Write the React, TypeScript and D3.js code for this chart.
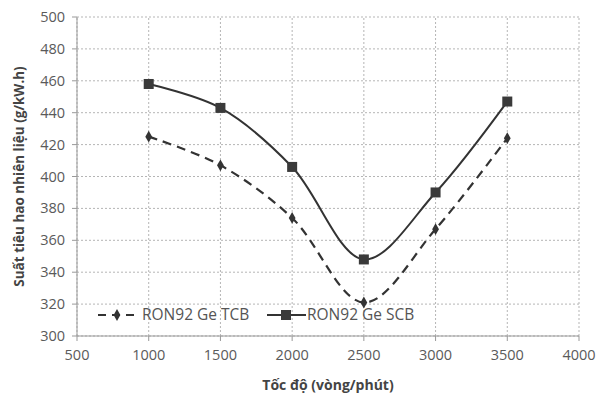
import { useRef, useEffect } from "react";
import * as d3 from "d3";

const speeds = [1000, 1500, 2000, 2500, 3000, 3500];
const tcb = [425, 407, 374, 321, 367, 424];
const scb = [458, 443, 406, 348, 390, 447];
const xTicks = [500, 1000, 1500, 2000, 2500, 3000, 3500, 4000];
const yTicks = [300, 320, 340, 360, 380, 400, 420, 440, 460, 480, 500];

export default function App() {
  const svgRef = useRef<SVGSVGElement>(null);
  const W = 598, H = 397;

  useEffect(() => {
    if (!svgRef.current) return;
    const svg = d3.select(svgRef.current);
    svg.selectAll("*").remove();

    const m = { left: 77, right: 19, top: 17, bottom: 61 };
    const x = d3.scaleLinear().domain([500, 4000]).range([m.left, W - m.right]);
    const y = d3.scaleLinear().domain([300, 500]).range([H - m.bottom, m.top]);
    const font = "'Open Sans', sans-serif";

    svg.append("rect").attr("width", W).attr("height", H).attr("fill", "#fff");

    // grid
    const grid = svg.append("g");
    yTicks.forEach(t => {
      grid.append("line").attr("x1", x(500)).attr("x2", x(4000)).attr("y1", y(t)).attr("y2", y(t))
        .attr("stroke", "#b5b5b5").attr("stroke-width", 1).attr("stroke-dasharray", "2,2");
    });
    xTicks.forEach(t => {
      grid.append("line").attr("x1", x(t)).attr("x2", x(t)).attr("y1", y(300)).attr("y2", y(500))
        .attr("stroke", "#b5b5b5").attr("stroke-width", 1).attr("stroke-dasharray", "2,2");
    });

    // axes lines
    svg.append("line").attr("x1", x(500)).attr("x2", x(4000)).attr("y1", y(300)).attr("y2", y(300))
      .attr("stroke", "#999");
    svg.append("line").attr("x1", x(500)).attr("x2", x(500)).attr("y1", y(300)).attr("y2", y(500))
      .attr("stroke", "#999");
    yTicks.forEach(t => {
      svg.append("line").attr("x1", x(500) - 5).attr("x2", x(500)).attr("y1", y(t)).attr("y2", y(t)).attr("stroke", "#999");
    });
    xTicks.forEach(t => {
      svg.append("line").attr("x1", x(t)).attr("x2", x(t)).attr("y1", y(300)).attr("y2", y(300) + 5).attr("stroke", "#999");
    });

    // tick labels
    yTicks.forEach(t => {
      svg.append("text").attr("x", x(500) - 12).attr("y", y(t)).attr("dy", "0.35em")
        .attr("text-anchor", "end").attr("font-family", font).attr("font-size", 14.5).attr("fill", "#5a5a5a")
        .text(t);
    });
    xTicks.forEach(t => {
      svg.append("text").attr("x", x(t)).attr("y", y(300) + 24)
        .attr("text-anchor", "middle").attr("font-family", font).attr("font-size", 14.5).attr("fill", "#5a5a5a")
        .text(t);
    });

    // titles
    svg.append("text").attr("x", (x(500) + x(4000)) / 2).attr("y", 390)
      .attr("text-anchor", "middle").attr("font-family", font).attr("font-size", 14).attr("font-weight", "bold")
      .attr("fill", "#444").text("Tốc độ (vòng/phút)");
    svg.append("text").attr("transform", `translate(24,${(y(300) + y(500)) / 2}) rotate(-90)`)
      .attr("text-anchor", "middle").attr("font-family", font).attr("font-size", 13.5).attr("font-weight", "bold")
      .attr("fill", "#444").text("Suất tiêu hao nhiên liệu (g/kW.h)");

    const line = d3.line<number>()
      .x((_, i) => x(speeds[i])).y(d => y(d)).curve(d3.curveCatmullRom.alpha(0.5));

    // TCB dashed with diamonds
    svg.append("path").datum(tcb).attr("d", line).attr("fill", "none")
      .attr("stroke", "#333").attr("stroke-width", 2.2).attr("stroke-dasharray", "9,6");
    const diamond = d3.symbol().type(d3.symbolDiamond).size(40);
    tcb.forEach((v, i) => {
      svg.append("path").attr("d", diamond()).attr("transform", `translate(${x(speeds[i])},${y(v)})`).attr("fill", "#333");
    });

    // SCB solid with squares
    svg.append("path").datum(scb).attr("d", line).attr("fill", "none")
      .attr("stroke", "#333").attr("stroke-width", 2);
    scb.forEach((v, i) => {
      svg.append("rect").attr("x", x(speeds[i]) - 5).attr("y", y(v) - 5).attr("width", 10).attr("height", 10).attr("fill", "#3a3a3a");
    });

    // legend
    const ly = 315;
    svg.append("line").attr("x1", 98).attr("x2", 136).attr("y1", ly).attr("y2", ly)
      .attr("stroke", "#333").attr("stroke-width", 2.2).attr("stroke-dasharray", "8,6");
    svg.append("path").attr("d", diamond()).attr("transform", `translate(117,${ly})`).attr("fill", "#333");
    svg.append("text").attr("x", 142).attr("y", ly).attr("dy", "0.35em").attr("font-family", font)
      .attr("font-size", 15.5).attr("fill", "#555").text("RON92 Ge TCB");
    svg.append("line").attr("x1", 267).attr("x2", 306).attr("y1", ly).attr("y2", ly)
      .attr("stroke", "#333").attr("stroke-width", 2);
    svg.append("rect").attr("x", 281).attr("y", ly - 5).attr("width", 10).attr("height", 10).attr("fill", "#3a3a3a");
    svg.append("text").attr("x", 307).attr("y", ly).attr("dy", "0.35em").attr("font-family", font)
      .attr("font-size", 15.5).attr("fill", "#555").text("RON92 Ge SCB");
  }, []);

  return (
    <div style={{ position: "absolute", left: 0, top: 0 }}>
      <svg ref={svgRef} width={W} height={H} />
    </div>
  );
}
